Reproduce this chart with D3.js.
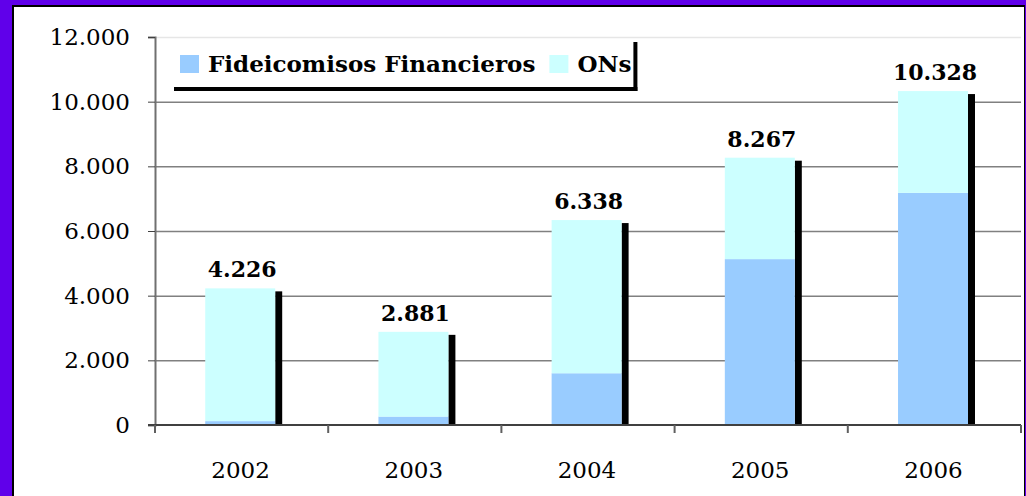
<!DOCTYPE html>
<html>
<head>
<meta charset="utf-8">
<script src="https://cdn.jsdelivr.net/npm/d3@7"></script>
<style>
  html, body { margin: 0; padding: 0; background: #fff; }
  svg { display: block; }
</style>
</head>
<body>
<div id="main"></div>
<script>
// data
var years = ["2002", "2003", "2004", "2005", "2006"];
var fideicomisos = [120, 260, 1600, 5130, 7180];
var totals = [4226, 2881, 6338, 8267, 10328];
var ons = totals.map(function(t, i) { return t - fideicomisos[i]; });
var seriesNames = ["Fideicomisos Financieros", "ONs"];
var seriesColors = ["#99ccff", "#ccffff"];
var yTicks = [0, 2000, 4000, 6000, 8000, 10000, 12000];

var W = 1026, H = 496;
var margin = { top: 37, left: 155, right: 5, bottom: 71 };
var fmt = function(v) { return d3.format(",")(v).replace(/,/g, "."); };

var svg = d3.select("#main")
	.append("svg")
	.attr("width", W)
	.attr("height", H);

// frame
svg.append("rect").attr("x", 0).attr("y", 0).attr("width", W).attr("height", H).attr("fill", "#6000ea");
svg.append("rect").attr("x", 12).attr("y", 5).attr("width", 1013).attr("height", H).attr("fill", "#000");
svg.append("rect").attr("x", 14).attr("y", 7).attr("width", 1010).attr("height", H).attr("fill", "#fff");

var x = d3.scaleBand()
	.domain(years)
	.range([margin.left, W - margin.right])
	.padding(0);

var y = d3.scaleLinear()
	.domain([0, 12000])
	.range([H - margin.bottom, margin.top]);

// grid
svg.append("g")
	.selectAll("line")
	.data(yTicks.slice(1))
	.enter()
	.append("line")
	.attr("x1", margin.left)
	.attr("x2", W - margin.right)
	.attr("y1", function(d) { return y(d) + 0.5; })
	.attr("y2", function(d) { return y(d) + 0.5; })
	.attr("stroke", function(d) { return d === 12000 ? "#e6e6e6" : "#808080"; })
	.attr("stroke-width", 1.5);

// y axis
var yAxis = svg.append("g")
	.attr("transform", "translate(" + margin.left + ",0)")
	.call(d3.axisLeft(y).tickValues(yTicks).tickFormat(fmt).tickSize(7).tickPadding(18));
yAxis.select(".domain").attr("stroke", "#707070").attr("stroke-width", 2);
yAxis.selectAll(".tick line").attr("stroke", "#404040");
yAxis.selectAll("text")
	.attr("font-family", "DejaVu Serif")
	.attr("font-size", 23)
	.attr("fill", "#000");

// stacked bars
var stackData = years.map(function(yr, i) { return { year: yr, fid: fideicomisos[i], ons: ons[i], total: totals[i] }; });
var stack = d3.stack().keys(["fid", "ons"])(stackData);

var step = x.step();
var barX = function(d) { return x(d.year) + step * 0.29; };
var barW = step * 0.404;

// shadows
svg.append("g")
	.selectAll("rect")
	.data(stackData)
	.enter()
	.append("rect")
	.attr("x", function(d) { return barX(d) + barW; })
	.attr("y", function(d) { return y(d.total) + 3; })
	.attr("width", 7)
	.attr("height", function(d) { return y(0) - y(d.total) - 3; })
	.attr("fill", "#000");

svg.append("g")
	.selectAll("g")
	.data(stack)
	.enter()
	.append("g")
	.attr("fill", function(d, i) { return seriesColors[i]; })
	.selectAll("rect")
	.data(function(d) { return d; })
	.enter()
	.append("rect")
	.attr("x", function(d) { return barX(d.data); })
	.attr("y", function(d) { return y(d[1]); })
	.attr("width", barW)
	.attr("height", function(d) { return y(d[0]) - y(d[1]); });

// x axis
var xAxis = svg.append("g")
	.attr("transform", "translate(0," + y(0) + ")");
xAxis.append("line")
	.attr("x1", margin.left - 7).attr("x2", W - margin.right)
	.attr("stroke", "#404040").attr("stroke-width", 2);
xAxis.selectAll(".tk")
	.data(years.concat(["end"]))
	.enter()
	.append("line")
	.attr("x1", function(d, i) { return margin.left + i * step; })
	.attr("x2", function(d, i) { return margin.left + i * step; })
	.attr("y1", 0).attr("y2", 8)
	.attr("stroke", "#606060").attr("stroke-width", 2);
xAxis.selectAll("text")
	.data(years)
	.enter()
	.append("text")
	.attr("x", function(d) { return x(d) + step / 2 - 1; })
	.attr("y", 53)
	.attr("text-anchor", "middle")
	.attr("font-family", "DejaVu Serif")
	.attr("font-size", 23)
	.text(function(d) { return d; });

// value labels
svg.append("g")
	.selectAll("text")
	.data(stackData)
	.enter()
	.append("text")
	.attr("x", function(d) { return barX(d) + barW / 2 + 2; })
	.attr("y", function(d) { return y(d.total) - 11; })
	.attr("text-anchor", "middle")
	.attr("font-family", "DejaVu Serif")
	.attr("font-weight", "bold")
	.attr("font-size", 22)
	.text(function(d) { return fmt(d.total); });

// legend
var legend = svg.append("g").attr("transform", "translate(180,55)");
var lx = 0;
seriesNames.forEach(function(name, i) {
	legend.append("rect")
		.attr("x", lx).attr("y", 0)
		.attr("width", 19).attr("height", 18)
		.attr("fill", seriesColors[i]);
	var t = legend.append("text")
		.attr("x", lx + 28).attr("y", 17)
		.attr("font-family", "DejaVu Serif")
		.attr("font-weight", "bold")
		.attr("font-size", 23)
		.text(name);
	lx += 28 + t.node().getComputedTextLength() + 14;
});
var legRight = 180 + lx - 12;
svg.append("rect").attr("x", 174).attr("y", 87).attr("width", legRight - 174 + 4).attr("height", 4).attr("fill", "#000");
svg.append("rect").attr("x", legRight).attr("y", 42).attr("width", 4).attr("height", 49).attr("fill", "#000");
</script>
</body>
</html>
